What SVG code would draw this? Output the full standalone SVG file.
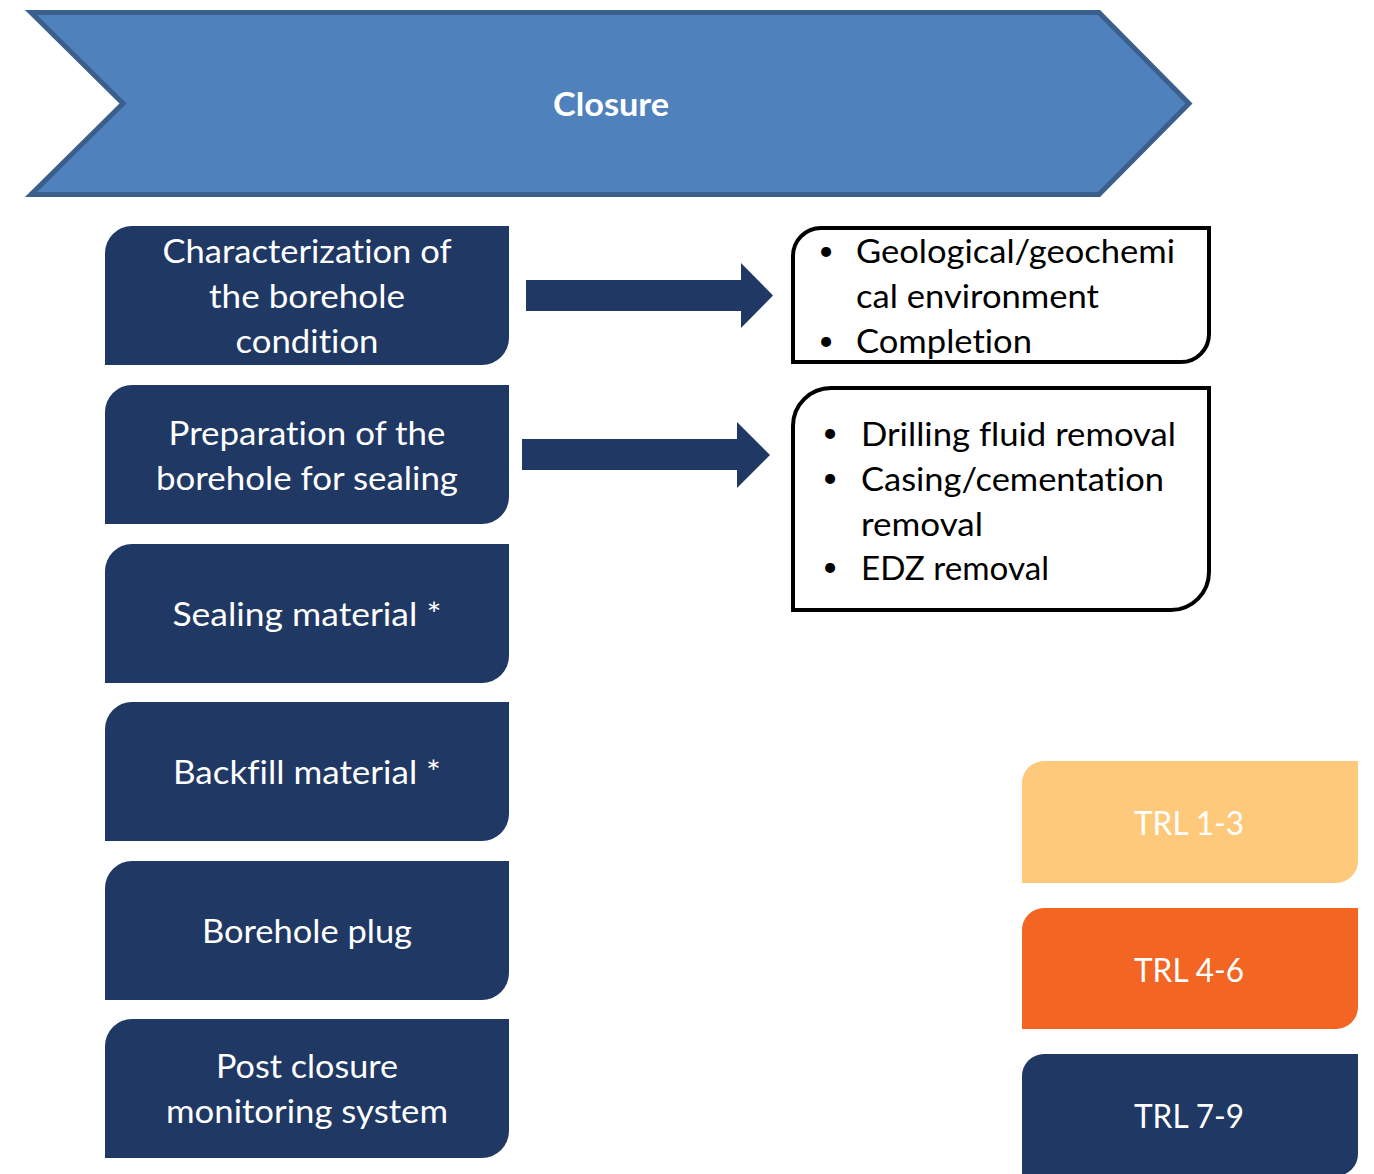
<svg xmlns="http://www.w3.org/2000/svg" width="1374" height="1174" viewBox="0 0 1374 1174">
  <style>
    text { font-variant-ligatures: none; font-feature-settings: "liga" 0, "clig" 0, "dlig" 0; }
    .step { fill: #203864; }
    .lbl { font-family: Lato, "Liberation Sans", sans-serif; font-size: 33px; fill: #ffffff; text-anchor: middle; }
    .blt { font-family: Lato, "Liberation Sans", sans-serif; font-size: 33px; fill: #000000; }
    .dot { font-family: Lato, "Liberation Sans", sans-serif; font-size: 27px; fill: #000000; text-anchor: middle; }
    .list { fill: #ffffff; stroke: #000000; stroke-width: 4; }
    .arrow { fill: #203864; }
  </style>
  <rect width="1374" height="1174" fill="#ffffff"/>

  <!-- phase banner -->
  <g id="closure">
    <path d="M31,12.5 H1099 L1189,103.5 L1099,194.5 H31 L123,103.5 Z" fill="#4f81bd" stroke="#3b5f8c" stroke-width="5" stroke-linejoin="miter"/>
    <text x="611" y="116" font-family="Lato, 'Liberation Sans', sans-serif" font-size="32" font-weight="bold" fill="#ffffff" text-anchor="middle" textLength="116" lengthAdjust="spacingAndGlyphs">Closure</text>
  </g>

  <!-- process steps -->
  <g id="step-characterization">
    <path class="step" d="M132,226 H509 V338 A27,27 0 0 1 482,365 H105 V253 A27,27 0 0 1 132,226 Z"/>
    <text class="lbl" x="307" y="263" textLength="289" lengthAdjust="spacingAndGlyphs">Characterization of</text>
    <text class="lbl" x="307" y="308" textLength="196" lengthAdjust="spacingAndGlyphs">the borehole</text>
    <text class="lbl" x="307" y="353" textLength="143" lengthAdjust="spacingAndGlyphs">condition</text>
  </g>
  <g id="step-preparation">
    <path class="step" d="M132,385 H509 V497 A27,27 0 0 1 482,524 H105 V412 A27,27 0 0 1 132,385 Z"/>
    <text class="lbl" x="307" y="445" textLength="277" lengthAdjust="spacingAndGlyphs">Preparation of the</text>
    <text class="lbl" x="307" y="490" textLength="302" lengthAdjust="spacingAndGlyphs">borehole for sealing</text>
  </g>
  <g id="step-sealing">
    <path class="step" d="M132,544 H509 V656 A27,27 0 0 1 482,683 H105 V571 A27,27 0 0 1 132,544 Z"/>
    <text class="lbl" x="307" y="626" textLength="269" lengthAdjust="spacingAndGlyphs">Sealing material *</text>
  </g>
  <g id="step-backfill">
    <path class="step" d="M132,702 H509 V814 A27,27 0 0 1 482,841 H105 V729 A27,27 0 0 1 132,702 Z"/>
    <text class="lbl" x="307" y="784" textLength="268" lengthAdjust="spacingAndGlyphs">Backfill material *</text>
  </g>
  <g id="step-plug">
    <path class="step" d="M132,861 H509 V973 A27,27 0 0 1 482,1000 H105 V888 A27,27 0 0 1 132,861 Z"/>
    <text class="lbl" x="307" y="943" textLength="210" lengthAdjust="spacingAndGlyphs">Borehole plug</text>
  </g>
  <g id="step-monitoring">
    <path class="step" d="M132,1019 H509 V1131 A27,27 0 0 1 482,1158 H105 V1046 A27,27 0 0 1 132,1019 Z"/>
    <text class="lbl" x="307" y="1078" textLength="182" lengthAdjust="spacingAndGlyphs">Post closure</text>
    <text class="lbl" x="307" y="1123" textLength="282" lengthAdjust="spacingAndGlyphs">monitoring system</text>
  </g>

  <!-- detail lists -->
  <g id="list-characterization">
    <path class="list" d="M821,228 H1209 V334 A28,28 0 0 1 1181,362 H793 V256 A28,28 0 0 1 821,228 Z"/>
    <text class="dot" x="826" y="260">•</text>
    <text class="blt" x="856" y="263" textLength="319" lengthAdjust="spacingAndGlyphs">Geological/geochemi</text>
    <text class="blt" x="856" y="308" textLength="243" lengthAdjust="spacingAndGlyphs">cal environment</text>
    <text class="dot" x="826" y="350">•</text>
    <text class="blt" x="856" y="353" textLength="176" lengthAdjust="spacingAndGlyphs">Completion</text>
  </g>
  <g id="list-preparation">
    <path class="list" d="M831,388 H1209 V572 A38,38 0 0 1 1171,610 H793 V426 A38,38 0 0 1 831,388 Z"/>
    <text class="dot" x="830" y="442">•</text>
    <text class="blt" x="861" y="446" textLength="315" lengthAdjust="spacingAndGlyphs">Drilling fluid removal</text>
    <text class="dot" x="830" y="487">•</text>
    <text class="blt" x="861" y="491" textLength="303" lengthAdjust="spacingAndGlyphs">Casing/cementation</text>
    <text class="blt" x="861" y="536" textLength="122" lengthAdjust="spacingAndGlyphs">removal</text>
    <text class="dot" x="830" y="576">•</text>
    <text class="blt" x="861" y="580" textLength="188" lengthAdjust="spacingAndGlyphs">EDZ removal</text>
  </g>

  <!-- TRL legend -->
  <g id="trl-1-3">
    <path d="M1044,761 H1358 V861 A22,22 0 0 1 1336,883 H1022 V783 A22,22 0 0 1 1044,761 Z" fill="#fec97b"/>
    <text class="lbl" x="1189" y="835" textLength="110" lengthAdjust="spacingAndGlyphs">TRL 1-3</text>
  </g>
  <g id="trl-4-6">
    <path d="M1044,908 H1358 V1007 A22,22 0 0 1 1336,1029 H1022 V930 A22,22 0 0 1 1044,908 Z" fill="#f26522"/>
    <text class="lbl" x="1189" y="982" textLength="110" lengthAdjust="spacingAndGlyphs">TRL 4-6</text>
  </g>
  <g id="trl-7-9">
    <path d="M1044,1054 H1358 V1154 A22,22 0 0 1 1336,1176 H1022 V1076 A22,22 0 0 1 1044,1054 Z" fill="#203864"/>
    <text class="lbl" x="1189" y="1128" textLength="110" lengthAdjust="spacingAndGlyphs">TRL 7-9</text>
  </g>

  <!-- connectors -->
  <g id="connectors">
    <path class="arrow" d="M526,280 H741 V263 L773,295.5 L741,328 V311 H526 Z"/>
    <path class="arrow" d="M522,439 H737 V422 L770,455 L737,488 V470 H522 Z"/>
  </g>
</svg>
